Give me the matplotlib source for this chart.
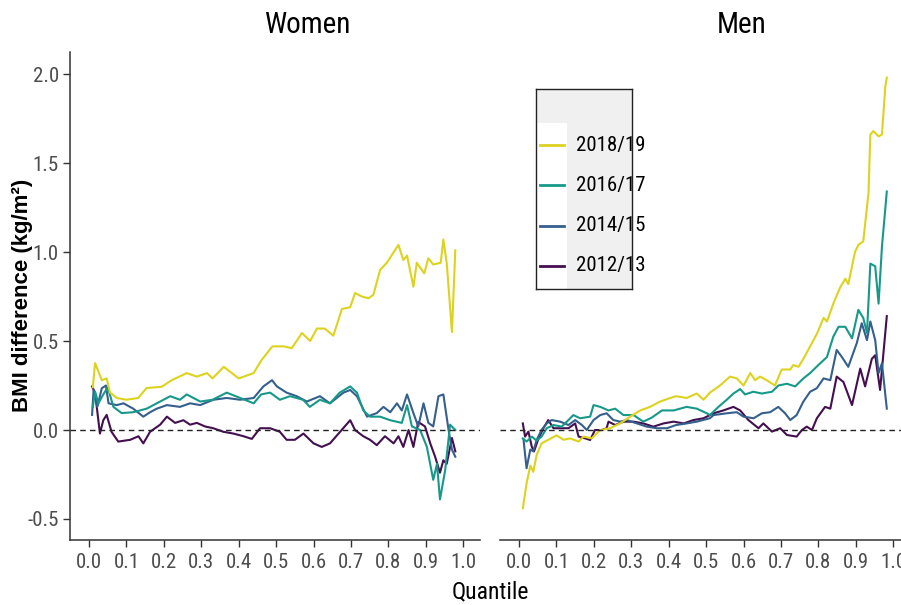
# BMI difference by quantile, women vs men, four survey waves
import matplotlib
matplotlib.use("Agg")
import matplotlib.pyplot as plt
from matplotlib import font_manager
from matplotlib.patches import Rectangle

names = {f.name for f in font_manager.fontManager.ttflist}
narrow = next((n for n in ["Liberation Sans Narrow", "Roboto Condensed",
                           "DejaVu Sans Condensed", "Liberation Sans"] if n in names), "DejaVu Sans")
regular = "Liberation Sans" if "Liberation Sans" in names else "DejaVu Sans"

waves = ["2018/19", "2016/17", "2014/15", "2012/13"]
colors = ["#DDD31E", "#17998A", "#355F8D", "#440F4F"]

# ---- Women ----
w_q_1819 = [0.01, 0.016, 0.034, 0.047, 0.056, 0.074, 0.10, 0.131, 0.154, 0.194, 0.221, 0.261, 0.288, 0.315,
            0.33, 0.36, 0.40, 0.44, 0.46, 0.49, 0.52, 0.542, 0.569, 0.591, 0.609, 0.63, 0.653, 0.676, 0.698,
            0.711, 0.729, 0.747, 0.76, 0.778, 0.796, 0.827, 0.84, 0.85, 0.867, 0.876, 0.896, 0.907, 0.92,
            0.94, 0.947, 0.956, 0.97, 0.979]
w_v_1819 = [0.24, 0.376, 0.28, 0.29, 0.21, 0.18, 0.17, 0.18, 0.236, 0.243, 0.28, 0.32, 0.30, 0.32,
            0.29, 0.355, 0.29, 0.32, 0.39, 0.47, 0.47, 0.46, 0.545, 0.50, 0.57, 0.57, 0.53, 0.68, 0.69,
            0.77, 0.75, 0.74, 0.76, 0.90, 0.94, 1.04, 0.955, 0.98, 0.805, 0.94, 0.88, 0.965, 0.93,
            0.94, 1.07, 0.94, 0.55, 1.01]

w_q_1617 = [0.01, 0.016, 0.025, 0.038, 0.05, 0.065, 0.087, 0.118, 0.154, 0.19, 0.217, 0.243, 0.261, 0.297,
            0.33, 0.368, 0.404, 0.44, 0.46, 0.484, 0.51, 0.537, 0.572, 0.59, 0.617, 0.644, 0.67, 0.698,
            0.716, 0.733, 0.751, 0.778, 0.805, 0.836, 0.85, 0.863, 0.885, 0.903, 0.92, 0.93, 0.938,
            0.952, 0.965, 0.979]
w_v_1617 = [0.13, 0.215, 0.15, 0.20, 0.24, 0.13, 0.095, 0.10, 0.12, 0.16, 0.19, 0.17, 0.20, 0.16,
            0.17, 0.21, 0.18, 0.15, 0.20, 0.21, 0.17, 0.19, 0.17, 0.13, 0.17, 0.15, 0.21, 0.245,
            0.21, 0.11, 0.075, 0.075, 0.055, 0.04, 0.14, 0.02, 0.0, -0.095, -0.28, -0.19, -0.39,
            -0.225, 0.03, 0.0]

w_q_1415 = [0.008, 0.012, 0.022, 0.034, 0.045, 0.052, 0.074, 0.092, 0.118, 0.145, 0.163, 0.181, 0.208,
            0.243, 0.27, 0.297, 0.332, 0.368, 0.404, 0.44, 0.466, 0.489, 0.502, 0.528, 0.555, 0.582,
            0.617, 0.644, 0.68, 0.698, 0.716, 0.743, 0.769, 0.787, 0.805, 0.823, 0.836, 0.85, 0.867,
            0.88, 0.894, 0.907, 0.92, 0.934, 0.947, 0.961, 0.97, 0.979]
w_v_1415 = [0.085, 0.225, 0.13, 0.235, 0.25, 0.15, 0.14, 0.15, 0.12, 0.075, 0.10, 0.12, 0.14,
            0.13, 0.15, 0.14, 0.17, 0.18, 0.17, 0.18, 0.245, 0.28, 0.245, 0.21, 0.19, 0.16,
            0.19, 0.15, 0.21, 0.225, 0.19, 0.075, 0.095, 0.13, 0.10, 0.15, 0.11, 0.20, 0.095,
            0.02, 0.15, 0.04, 0.02, 0.19, 0.20, 0.0, -0.11, -0.15]

w_q_1213 = [0.008, 0.016, 0.029, 0.038, 0.047, 0.06, 0.078, 0.11, 0.132, 0.145, 0.163, 0.19, 0.208, 0.23,
            0.252, 0.27, 0.288, 0.31, 0.332, 0.359, 0.386, 0.413, 0.435, 0.457, 0.484, 0.51, 0.528,
            0.55, 0.573, 0.60, 0.622, 0.644, 0.671, 0.698, 0.711, 0.733, 0.751, 0.769, 0.791, 0.814,
            0.827, 0.84, 0.854, 0.867, 0.88, 0.898, 0.912, 0.925, 0.938, 0.947, 0.956, 0.97, 0.979]
w_v_1213 = [0.245, 0.21, -0.02, 0.055, 0.085, -0.01, -0.065, -0.055, -0.035, -0.075, -0.01, 0.03, 0.075, 0.04,
            0.055, 0.03, 0.04, 0.02, 0.01, -0.01, -0.02, -0.035, -0.05, 0.01, 0.01, -0.01, -0.055,
            -0.055, -0.02, -0.075, -0.095, -0.075, -0.01, 0.055, 0.0, -0.035, -0.055, -0.085, -0.035, -0.075,
            -0.035, -0.095, 0.0, -0.095, 0.045, 0.02, -0.075, -0.15, -0.24, -0.17, -0.19, -0.045, -0.12]

# ---- Men ----
m_q_1819 = [0.01, 0.02, 0.03, 0.038, 0.047, 0.06, 0.078, 0.10, 0.119, 0.136, 0.159, 0.172, 0.194, 0.217,
            0.243, 0.27, 0.297, 0.324, 0.35, 0.377, 0.404, 0.42, 0.448, 0.475, 0.493, 0.51, 0.537, 0.564,
            0.582, 0.60, 0.618, 0.631, 0.644, 0.662, 0.684, 0.702, 0.725, 0.733, 0.747, 0.76, 0.778,
            0.796, 0.814, 0.823, 0.84, 0.858, 0.872, 0.88, 0.898, 0.907, 0.92, 0.934, 0.939, 0.947,
            0.961, 0.97, 0.979, 0.983]
m_v_1819 = [-0.44, -0.30, -0.20, -0.235, -0.14, -0.075, -0.055, -0.03, -0.055, -0.047, -0.065, -0.037, -0.047, 0.0,
            0.01, 0.037, 0.075, 0.11, 0.13, 0.16, 0.18, 0.19, 0.18, 0.205, 0.17, 0.21, 0.25, 0.30,
            0.29, 0.25, 0.32, 0.28, 0.30, 0.28, 0.25, 0.34, 0.34, 0.365, 0.355, 0.40, 0.47,
            0.54, 0.63, 0.61, 0.71, 0.80, 0.85, 0.82, 1.0, 1.04, 1.06, 1.33, 1.66, 1.68,
            1.65, 1.66, 1.93, 1.98]

m_q_1617 = [0.01, 0.02, 0.034, 0.047, 0.06, 0.074, 0.092, 0.114, 0.132, 0.145, 0.163, 0.19, 0.199, 0.217,
            0.239, 0.257, 0.279, 0.306, 0.332, 0.355, 0.382, 0.413, 0.448, 0.475, 0.502, 0.51, 0.533,
            0.555, 0.573, 0.591, 0.604, 0.626, 0.649, 0.676, 0.693, 0.716, 0.738, 0.76, 0.778, 0.80,
            0.823, 0.84, 0.854, 0.872, 0.89, 0.907, 0.92, 0.93, 0.939, 0.952, 0.961, 0.97, 0.983]
m_v_1617 = [-0.047, -0.065, -0.037, -0.06, -0.037, 0.01, 0.028, 0.019, 0.056, 0.084, 0.066, 0.075, 0.14, 0.13,
            0.11, 0.12, 0.084, 0.084, 0.047, 0.07, 0.11, 0.11, 0.13, 0.12, 0.094, 0.084, 0.13,
            0.17, 0.205, 0.23, 0.20, 0.215, 0.205, 0.215, 0.25, 0.26, 0.245, 0.29, 0.32, 0.365,
            0.41, 0.525, 0.58, 0.58, 0.515, 0.675, 0.63, 0.545, 0.935, 0.92, 0.71, 1.03, 1.34]

m_q_1415 = [0.012, 0.02, 0.03, 0.038, 0.047, 0.06, 0.074, 0.087, 0.11, 0.132, 0.15, 0.168, 0.181, 0.199,
            0.217, 0.234, 0.252, 0.27, 0.288, 0.315, 0.341, 0.368, 0.395, 0.42, 0.448, 0.475, 0.51,
            0.52, 0.555, 0.582, 0.60, 0.627, 0.649, 0.671, 0.693, 0.711, 0.725, 0.742, 0.76, 0.778,
            0.796, 0.814, 0.832, 0.849, 0.863, 0.88, 0.903, 0.916, 0.93, 0.939, 0.952, 0.961, 0.97, 0.983]
m_v_1415 = [-0.056, -0.215, -0.11, -0.12, -0.056, 0.0, 0.037, 0.056, 0.047, 0.028, 0.056, 0.028, 0.0, 0.056,
            0.084, 0.094, 0.056, 0.047, 0.056, 0.037, 0.019, 0.01, 0.01, 0.028, 0.037, 0.047, 0.066,
            0.084, 0.094, 0.10, 0.075, 0.066, 0.094, 0.10, 0.13, 0.094, 0.056, 0.084, 0.16, 0.215,
            0.235, 0.29, 0.28, 0.45, 0.41, 0.355, 0.49, 0.60, 0.505, 0.61, 0.505, 0.32, 0.375, 0.12]

m_q_1213 = [0.01, 0.016, 0.025, 0.034, 0.04, 0.052, 0.065, 0.078, 0.092, 0.114, 0.132, 0.15, 0.159, 0.177,
            0.19, 0.203, 0.221, 0.234, 0.239, 0.257, 0.279, 0.306, 0.332, 0.359, 0.386, 0.413, 0.44,
            0.466, 0.493, 0.52, 0.546, 0.573, 0.591, 0.613, 0.64, 0.653, 0.676, 0.698, 0.716, 0.742,
            0.756, 0.769, 0.783, 0.796, 0.818, 0.832, 0.849, 0.867, 0.89, 0.912, 0.925, 0.943, 0.952,
            0.965, 0.983]
m_v_1213 = [0.037, -0.037, -0.009, -0.094, -0.12, -0.047, 0.01, 0.056, 0.01, 0.01, 0.01, 0.037, -0.037, -0.047,
            -0.056, 0.0, 0.0, 0.01, 0.047, 0.028, 0.047, 0.047, 0.037, 0.019, 0.037, 0.047, 0.037,
            0.056, 0.066, 0.094, 0.11, 0.13, 0.11, 0.056, 0.01, 0.037, -0.009, 0.01, -0.028, -0.037,
            0.0, 0.019, 0.0, 0.066, 0.13, 0.12, 0.30, 0.27, 0.14, 0.345, 0.245, 0.40, 0.42,
            0.225, 0.64]

women = [(w_q_1819, w_v_1819), (w_q_1617, w_v_1617), (w_q_1415, w_v_1415), (w_q_1213, w_v_1213)]
men = [(m_q_1819, m_v_1819), (m_q_1617, m_v_1617), (m_q_1415, m_v_1415), (m_q_1213, m_v_1213)]

xticks = [round(0.1 * i, 1) for i in range(11)]
yticks = [-0.5, 0.0, 0.5, 1.0, 1.5, 2.0]

W, H = 901, 605
fig = plt.figure(figsize=(W / 100, H / 100), dpi=100)
axw = fig.add_axes([70 / W, 1 - 540 / H, 410 / W, 488 / H])
axm = fig.add_axes([500 / W, 1 - 540 / H, 410 / W, 488 / H])

for ax, series in [(axw, women), (axm, men)]:
    # plot later waves first so 2012/13 sits on top
    for (q, v), c in zip(series[::-1], colors[::-1]):
        ax.plot(q, v, color=c, lw=1.5)
    ax.axhline(0, color="#222222", lw=1.0, ls=(0, (4, 3)))
    ax.set_xlim(-0.051, 1.045)
    ax.set_ylim(-0.618, 2.124)
    ax.set_xticks(xticks)
    ax.set_xticklabels([f"{t:.1f}" for t in xticks], family=narrow, fontsize=15, color="#4D4D4D")
    ax.tick_params(axis="x", length=5, width=1, color="#333333", pad=4)
    for s in ["top", "right"]:
        ax.spines[s].set_visible(False)
    ax.spines["bottom"].set_color("#333333")
    ax.spines["bottom"].set_linewidth(1.1)

axw.set_yticks(yticks)
axw.set_yticklabels([f"{t:.1f}" for t in yticks], family=narrow, fontsize=15, color="#4D4D4D")
axw.tick_params(axis="y", length=5, width=1, color="#333333", pad=3)
axw.spines["left"].set_color("#333333")
axw.spines["left"].set_linewidth(1.1)
axm.spines["left"].set_visible(False)
axm.set_yticks([])

fig.text(308 / W, 1 - 25 / H, "Women", family=narrow, fontsize=21, ha="center", va="center")
fig.text(742 / W, 1 - 25 / H, "Men", family=narrow, fontsize=21, ha="center", va="center")
fig.text(490 / W, 1 - 592 / H, "Quantile", family=narrow, fontsize=17, ha="center", va="center")
fig.text(23 / W, 1 - 295 / H, "BMI difference (kg/m²)", family=regular, fontsize=16,
         fontweight="bold", rotation=90, ha="center", va="center")

# legend box drawn by hand: grey background, white key column
lg = fig.add_axes([536 / W, 1 - 289 / H, 96 / W, 200 / H])
lg.set_xlim(536, 632)
lg.set_ylim(289, 89)
lg.set_facecolor("#F0F0F0")
lg.set_xticks([])
lg.set_yticks([])
for s in lg.spines.values():
    s.set_color("#222222")
    s.set_linewidth(1.0)
lg.add_patch(Rectangle((537, 123), 30, 166, facecolor="white", edgecolor="none"))
for i, (lab, c) in enumerate(zip(waves, colors)):
    yk = 145 + i * 40.3
    lg.plot([540, 564], [yk, yk], color=c, lw=2)
    lg.text(576, yk, lab, family=narrow, fontsize=15, va="center", ha="left")

fig.savefig("out.png", dpi=100)
